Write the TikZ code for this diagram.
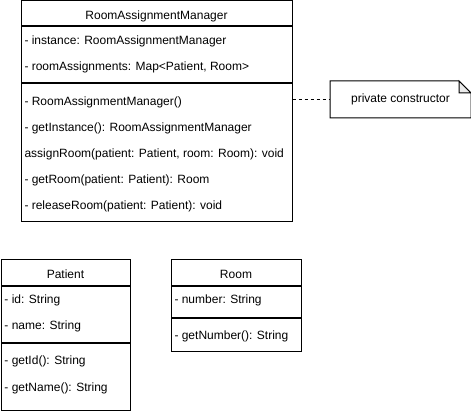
\documentclass[tikz,border=0pt]{standalone}
\usepackage{fontspec}
\setmainfont{Liberation Sans}
\usetikzlibrary{positioning}

\begin{document}
\begin{tikzpicture}[x=1pt, y=-1pt, line width=1pt,
      font=\fontsize{12}{14}\selectfont,
      hdr/.style={draw, fill=white, inner sep=0pt, minimum height=26pt,
        text height=12pt, text depth=0pt, anchor=north west},
      comp/.style={draw, inner sep=0pt},
      member/.style={anchor=base west, inner sep=0pt},
      notebox/.style={inner sep=0pt, minimum width=140pt, minimum height=36pt},
      fold/.style={fill=black!8},
      notelink/.style={dash pattern=on 3pt off 3pt}]

    \useasboundingbox (0,0) rectangle (471,411);

    % manager class
    \node[hdr, minimum width=271pt, minimum height=25pt] (mgr) at (20.5,0.5)
      {RoomAssignmentManager};
    \node[comp, minimum width=271pt, minimum height=56pt,
      below right=0pt of mgr.south west] (mgrattr) {};
    \node[comp, minimum width=271pt, minimum height=138pt,
      below right=0pt of mgrattr.south west] (mgrops) {};
    \foreach \m [count=\i] in {{- instance: RoomAssignmentManager},
        {- roomAssignments: Map<Patient, Room>}}
      \node[member] (mgra\i) at ([shift={(3.5,-8+26*\i)}]mgrattr.north west) {\m};
    \foreach \m [count=\i] in {{- RoomAssignmentManager()},
        {- getInstance(): RoomAssignmentManager},
        {assignRoom(patient: Patient, room: Room): void},
        {- getRoom(patient: Patient): Room},
        {- releaseRoom(patient: Patient): void}}
      \node[member] (mgrm\i) at ([shift={(3.5,-4+26*\i)}]mgrops.north west) {\m};

    % note
    \node[notebox] (note) at (400.5,99.5) {private constructor};
    \draw (note.south west) -- (note.north west) -- ([xshift=-12pt]note.north east)
      -- ([yshift=-12pt]note.north east) -- (note.south east) -- cycle;
    \draw[fold] ([xshift=-12pt]note.north east)
      -- ([xshift=-12pt,yshift=-12pt]note.north east)
      -- ([yshift=-12pt]note.north east) -- cycle;
    \draw[notelink] (note.west -| mgrops.east) -- (note.west);

    % patient class
    \node[hdr, minimum width=129pt] (pat) at (0.5,259.5) {Patient};
    \node[comp, minimum width=129pt, minimum height=56pt,
      below right=0pt of pat.south west] (patattr) {};
    \node[comp, minimum width=129pt, minimum height=66pt,
      below right=0pt of patattr.south west] (patops) {};
    \foreach \m [count=\i] in {{- id: String}, {- name: String}}
      \node[member] (pata\i) at ([shift={(3.5,-8.5+26*\i)}]patattr.north west) {\m};
    \foreach \m [count=\i] in {{- getId(): String}, {- getName(): String}}
      \node[member] (patm\i) at ([shift={(3.5,-4.5+26*\i)}]patops.north west) {\m};

    % room class
    \node[hdr, minimum width=130pt] (room) at (170.5,259.5) {Room};
    \node[comp, minimum width=130pt, minimum height=31pt,
      below right=0pt of room.south west] (roomattr) {};
    \node[comp, minimum width=130pt, minimum height=33pt,
      below right=0pt of roomattr.south west] (roomops) {};
    \node[member] (rooma1) at ([shift={(3.5,17.5)}]roomattr.north west)
      {- number: String};
    \node[member] (roomm1) at ([shift={(3.5,21)}]roomops.north west)
      {- getNumber(): String};
  \end{tikzpicture}
\end{document}
